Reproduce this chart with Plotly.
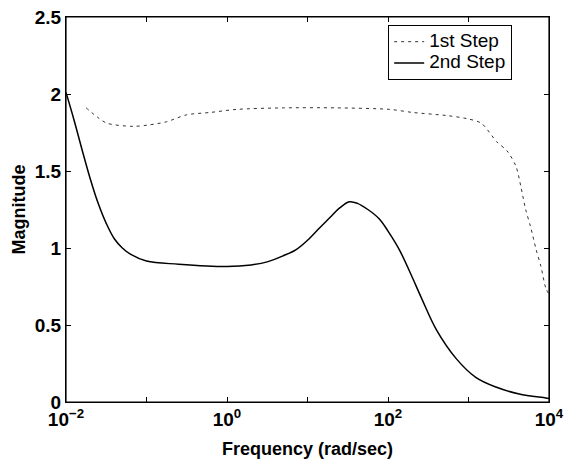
import plotly.graph_objects as go

# 1st Step (dotted)
freq1 = [0.0178, 0.0245, 0.0324, 0.0676, 0.110, 0.178, 0.316, 0.617, 1.32, 5.01,
         22.9, 105, 204, 537, 955, 1445, 2239, 3020, 3890, 4467, 5129, 5888,
         6918, 7943, 9120, 10000]
mag1 = [1.91, 1.85, 1.81, 1.79, 1.80, 1.82, 1.865, 1.88, 1.90, 1.91,
        1.91, 1.90, 1.88, 1.86, 1.84, 1.81, 1.69, 1.63, 1.53, 1.40, 1.25, 1.14,
        0.99, 0.88, 0.74, 0.70]

# 2nd Step (solid)
freq2 = [0.01, 0.0126, 0.0158, 0.020, 0.0251, 0.0316, 0.0398, 0.0501, 0.0631, 0.10,
         0.251, 1.0, 2.0, 3.16, 5.01, 7.24, 10.0, 14.1, 20.0, 25.1, 33.1, 41.7,
         56.2, 77.6, 100, 138, 200, 263, 398, 708, 1230, 2188, 4266, 9120, 10000]
mag2 = [2.01, 1.83, 1.64, 1.45, 1.29, 1.16, 1.06, 1.00, 0.96, 0.915,
        0.895, 0.88, 0.89, 0.91, 0.95, 0.99, 1.05, 1.13, 1.21, 1.26, 1.30, 1.29,
        1.25, 1.19, 1.11, 0.99, 0.81, 0.67, 0.47, 0.28, 0.16, 0.097, 0.052, 0.026, 0.022]

series_names = ["1st Step", "2nd Step"]

xtickvals = [0.01, 0.1, 1, 10, 100, 1000, 10000]
xticktext = ["10<sup>−2</sup>", "", "10<sup>0</sup>", "", "10<sup>2</sup>", "", "10<sup>4</sup>"]
ytickvals = [0, 0.5, 1, 1.5, 2, 2.5]
yticktext = ["0", "0.5", "1", "1.5", "2", "2.5"]

FONT = "Liberation Sans, Arial, sans-serif"

def legend_label(s):
    return "<span style='font-size:19px'>" + s + "</span>"

fig = go.Figure()
fig.add_trace(go.Scatter(x=freq1, y=mag1, mode="lines", name=legend_label(series_names[0]),
                         line=dict(color="#333", width=1, dash="3px,4px", shape="spline", smoothing=0.8)))
fig.add_trace(go.Scatter(x=freq2, y=mag2, mode="lines", name=legend_label(series_names[1]),
                         line=dict(color="black", width=1.5, shape="spline", smoothing=1.0)))

bold = dict(family=FONT, size=19, color="black", weight="bold")
fig.update_layout(
    width=574, height=459,
    margin=dict(l=66, r=25, t=17, b=57),
    paper_bgcolor="white", plot_bgcolor="white",
    showlegend=True,
    legend=dict(x=0.667, y=0.979, xanchor="left", yanchor="top",
                bordercolor="black", borderwidth=1, bgcolor="white",
                font=dict(family=FONT, size=14, color="black"),
                itemwidth=30, tracegroupgap=0),
    shapes=[dict(type="rect", xref="paper", yref="paper", x0=0, x1=1, y0=0, y1=1,
                 line=dict(color="black", width=1.2), fillcolor="rgba(0,0,0,0)", layer="above")],
    xaxis=dict(type="log", range=[-2, 4], tickvals=xtickvals, ticktext=xticktext,
               ticks="inside", ticklen=5, tickcolor="black", showline=True, linecolor="black",
               linewidth=1.2, mirror="ticks", showgrid=False, zeroline=False, automargin=False,
               tickfont=bold, ticklabeloverflow="allow",
               title=dict(text="Frequency (rad/sec)", font=dict(family=FONT, size=18, color="black", weight="bold"), standoff=14)),
    yaxis=dict(range=[0, 2.5], tickvals=ytickvals, ticktext=yticktext,
               ticks="inside", ticklen=5, tickcolor="black", showline=True, linecolor="black",
               linewidth=1.2, mirror="ticks", showgrid=False, zeroline=False, automargin=False,
               tickfont=bold, ticklabeloverflow="allow",
               title=dict(text="Magnitude", font=dict(family=FONT, size=18, color="black", weight="bold"), standoff=4)),
)
fig.write_html("out.html", config={"displayModeBar": False},
               post_script="document.body.style.margin='0px';")
